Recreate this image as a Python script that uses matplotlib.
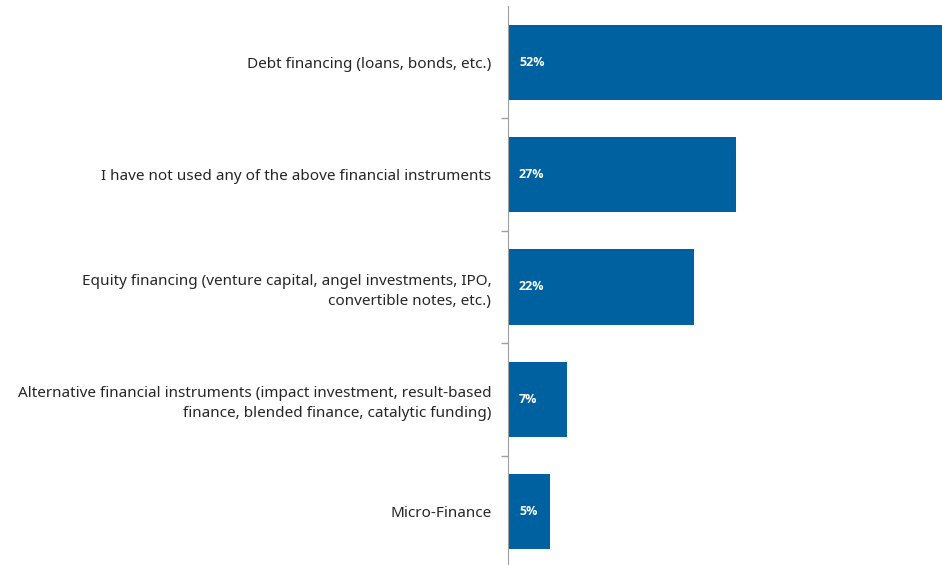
import matplotlib
matplotlib.use("Agg")
import matplotlib.pyplot as plt

categories = [
    "Debt financing (loans, bonds, etc.)",
    "I have not used any of the above financial instruments",
    "Equity financing (venture capital, angel investments, IPO,\nconvertible notes, etc.)",
    "Alternative financial instruments (impact investment, result-based\nfinance, blended finance, catalytic funding)",
    "Micro-Finance",
]
values = [52, 27, 22, 7, 5]
value_labels = ["52%", "27%", "22%", "7%", "5%"]

plt.rcParams["font.family"] = ["Noto Sans", "DejaVu Sans"]

fig = plt.figure(figsize=(9.42, 5.65), dpi=100)
ax = fig.add_axes([508 / 942, -3 / 565, 434 / 942, 562 / 565])

pos = list(range(len(categories)))
ax.barh(pos, values, height=0.67, color="#0061A0")
for p, v, lab in zip(pos, values, value_labels):
    ax.text(1.3, p, lab, color="white", fontweight="bold", fontsize=9,
            family=["Open Sans", "DejaVu Sans"], va="center", ha="left")

ax.set_xlim(0, 51.3)
ax.set_ylim(4.5, -0.5)
ax.set_yticks(pos)
ax.set_yticklabels(categories, fontsize=11, color="#262626", linespacing=1.45)
ax.tick_params(axis="y", which="major", length=0, pad=12)
ax.set_yticks([0.5, 1.5, 2.5, 3.5], minor=True)
ax.tick_params(axis="y", which="minor", length=5, color="#a0a0a0", width=1)
ax.set_xticks([])
for s in ["top", "right", "bottom"]:
    ax.spines[s].set_visible(False)
ax.spines["left"].set_color("#a0a0a0")

fig.savefig("out.png", dpi=100)
